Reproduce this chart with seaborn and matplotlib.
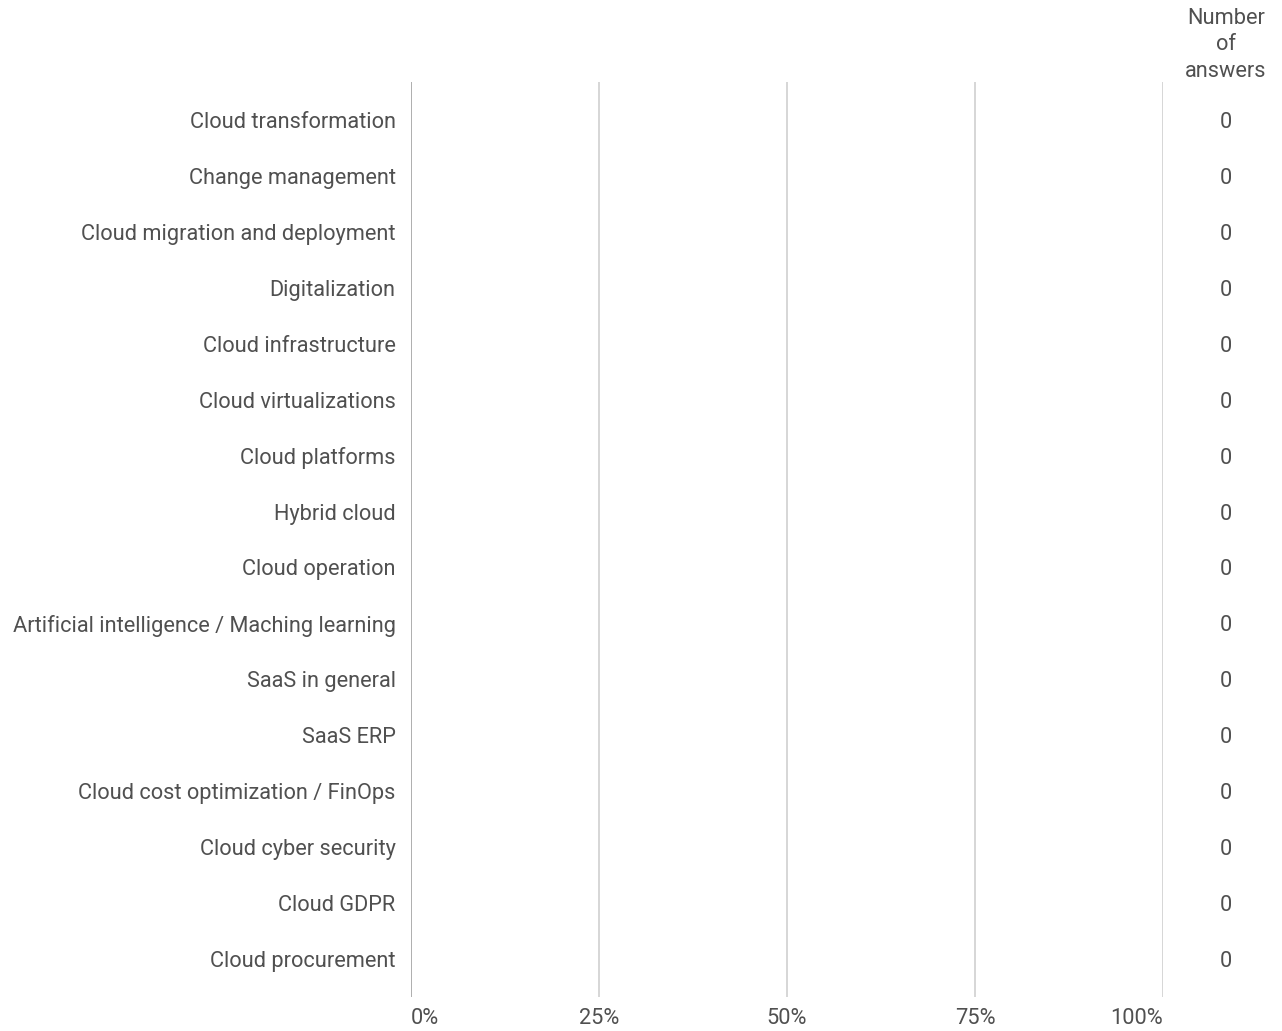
import matplotlib
matplotlib.use('Agg')
import matplotlib.pyplot as plt
import matplotlib.transforms as mtransforms
import seaborn as sns
import pandas as pd

topics = [
    "Cloud transformation",
    "Change management",
    "Cloud migration and deployment",
    "Digitalization",
    "Cloud infrastructure",
    "Cloud virtualizations",
    "Cloud platforms",
    "Hybrid cloud",
    "Cloud operation",
    "Artificial intelligence / Maching learning",
    "SaaS in general",
    "SaaS ERP",
    "Cloud cost optimization / FinOps",
    "Cloud cyber security",
    "Cloud GDPR",
    "Cloud procurement",
]
share = [0] * 16
answers = [0] * 16
x_ticks = [0, 25, 50, 75, 100]
x_tick_labels = ["0%", "25%", "50%", "75%", "100%"]

df = pd.DataFrame({"topic": topics, "share": share, "answers": answers})

sns.set_style("white")
plt.rcParams['font.family'] = ['Roboto', 'DejaVu Sans']
text_color = "#505050"
fs = 15.7

fig = plt.figure(figsize=(12.82, 10.31), dpi=100)
ax = fig.add_axes([0.3206, 0.033, 0.5866, 0.8875])

sns.barplot(data=df, x="share", y="topic", orient="h", color="#4285f4",
            linewidth=0, ax=ax)

ax.set_xlim(0, 100)
ax.set_ylim(15.68, -0.68)
for t in x_ticks:
    ax.axvline(t, color="#999999" if t == 0 else "#cccccc", lw=1.1, zorder=5)

for s in ax.spines.values():
    s.set_visible(False)

ax.set_xticks(x_ticks)
ax.set_xticklabels([])
ax.tick_params(axis="both", length=0)
ax.tick_params(axis="y", pad=11, labelsize=fs, labelcolor=text_color)
ax.set_xlabel("")
ax.set_ylabel("")

# bottom percentage labels: first left-aligned, last right-aligned
for i, (t, lab) in enumerate(zip(x_ticks, x_tick_labels)):
    ha = "left" if i == 0 else ("right" if i == len(x_ticks) - 1 else "center")
    ax.text(t, -0.023, lab, transform=ax.get_xaxis_transform(), ha=ha, va="center",
            fontsize=fs, color=text_color)

# number of answers column
col_tr = mtransforms.blended_transform_factory(fig.transFigure, ax.transData)
for i, n in enumerate(answers):
    ax.text(1226 / 1282, i, str(n), transform=col_tr, ha="center",
            va="center_baseline", fontsize=fs, color=text_color, clip_on=False)
fig.text(1226 / 1282, 1 - 45 / 1031, "Number\nof\nanswers", ha="center", va="center",
         fontsize=fs, color=text_color, linespacing=1.32)

plt.savefig("out.png", dpi=100)
